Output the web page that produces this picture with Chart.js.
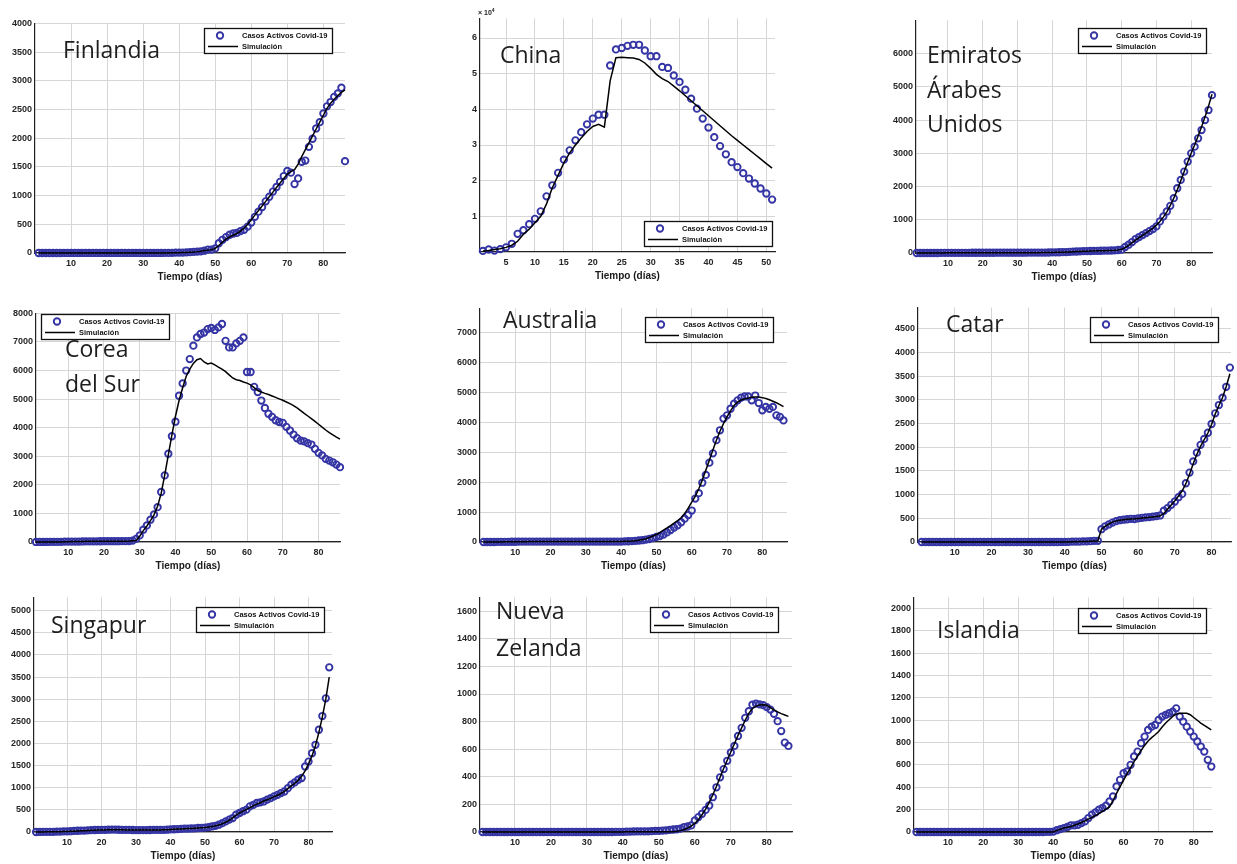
<!DOCTYPE html>
<html>
<head>
<meta charset="utf-8">
<script src="https://cdn.jsdelivr.net/npm/chart.js@4.4.1/dist/chart.umd.min.js"></script>
<style>
  html, body { margin: 0; padding: 0; background: #fff; }
  body { width: 1237px; height: 864px; position: relative; overflow: hidden; font-family: "Liberation Sans", Arial, sans-serif; }
  .panel { position: absolute; }
  .name { position: absolute; font-family: "Open Sans", sans-serif; font-size: 23px; color: #1e1e1e; white-space: pre; line-height: 34.5px; }
  .exp { position: absolute; font: bold 7px "Liberation Sans", Arial, sans-serif; color: #222; white-space: nowrap; }
  .exp sup { font-size: 5px; }
</style>
</head>
<body>
<script>
// Active COVID-19 cases per day (day 1 = first element) and model output.
const finlandiaObs = [0,0,0,0,0,0,0,1,1,1, 1,1,1,1,1,1,1,1,1,1, 1,1,1,1,1,1,1,1,1,1, 1,1,1,1,1,2,2,3,6,6,
  7,12,15,19,23,30,40,59,60,80, 170,230,277,318,340,350,380,405,460,530, 630,720,800,900,980,1070,1150,1240,1340,1430,
  1400,1200,1300,1590,1610,1850,1990,2170,2280,2430, 2555,2630,2720,2780,2880,1600];
const finlandiaSim = [0,0,0,0,0,0,0,1,1,1, 1,1,1,1,1,1,1,1,1,1, 1,1,1,1,1,1,1,1,1,1, 1,1,1,1,1,2,2,3,4,6,
  8,10,14,18,24,32,42,50,58,80, 130,190,240,280,310,340,380,430,500,580, 660,740,820,900,980,1060,1140,1220,1300,1370,
  1420,1450,1550,1680,1800,1920,2040,2160,2280,2400, 2520,2610,2680,2740,2800,2840];

const chinaObs = [300,700,400,800,1300,2300,5100,6100,7800,9300, 11400,15600,18700,22200,25900,28500,31300,33600,35800,37400,
  38500,38500,52300,56800,57200,57800,58100,58100,56500,54900, 54900,51900,51600,49500,47700,45500,43000,40200,37400,34900,
  32200,29700,27400,25200,23800,22100,20600,19200,17800,16400, 14700];
const chinaSim = [300,400,700,900,1300,1900,3000,5000,6400,8200, 10000,13500,18000,21500,25000,27800,30000,32000,33800,35200,
  35800,35000,48000,54500,54600,54500,54400,54000,53000,51500, 49800,48600,47800,46500,45200,43800,42400,41000,39600,38200,
  36800,35400,34000,32600,31300,30000,28700,27400,26100,24800, 23500];

const emiratosObs = [0,0,0,0,0,0,0,4,4,4, 5,5,5,5,5,5,7,7,8,8, 8,8,8,9,9,9,9,9,9,9, 9,9,10,11,11,12,12,14,15,20,
  20,22,25,27,35,40,45,50,55,58, 60,62,65,68,70,72,75,80,90,100, 180,250,330,420,480,540,600,660,720,800,
  950,1100,1250,1420,1650,1950,2200,2450,2750,3000, 3200,3450,3700,4000,4300,4750];
const emiratosSim = [0,0,0,0,0,0,0,3,3,4, 4,4,5,5,5,5,6,6,7,7, 7,8,8,8,8,8,9,9,9,9, 9,9,10,10,11,11,12,13,15,17,
  19,21,24,27,32,37,42,47,52,56, 59,62,65,68,70,73,76,80,88,110, 160,230,310,390,460,530,600,670,750,840,
  950,1080,1240,1430,1650,1900,2170,2450,2730,3000, 3250,3520,3800,4100,4420,4780];

const coreaObs = [1,1,2,2,3,4,4,4,11,11, 15,15,16,19,23,24,24,25,27,28, 28,28,28,28,29,30,31,51,110,230,
  430,580,780,965,1220,1750,2330,3090,3700,4210, 5120,5550,6000,6400,6870,7160,7280,7330,7450,7490,
  7420,7510,7630,7040,6810,6810,6950,7040,7160,5950, 5950,5430,5250,4950,4690,4490,4380,4260,4200,4170,
  4030,3900,3760,3630,3550,3520,3460,3410,3260,3120, 3030,2910,2850,2790,2710,2620];
const coreaSim = [1,1,2,2,3,4,4,4,10,11, 14,15,16,18,22,23,24,25,26,27, 28,28,28,28,29,30,31,40,50,200,
  400,560,750,950,1250,1700,2350,3050,3750,4400, 4950,5400,5800,6050,6250,6380,6420,6300,6230,6260,
  6200,6120,6050,5960,5850,5740,5680,5650,5600,5560, 5500,5400,5300,5250,5200,5160,5110,5060,5010,4960,
  4900,4840,4770,4690,4600,4500,4410,4320,4220,4120, 4020,3920,3830,3750,3670,3600];

const australiaObs = [0,0,0,0,4,5,5,6,9,9, 12,12,12,13,13,14,15,15,15,15, 15,15,15,15,15,15,15,15,15,15, 15,15,15,15,15,15,15,12,13,15,
  20,25,30,40,50,60,80,100,130,170, 200,250,320,400,480,560,660,780,900,1050, 1450,1630,1980,2240,2650,2960,3400,3730,4120,4230,
  4450,4620,4730,4820,4860,4860,4730,4890,4640,4400, 4510,4450,4510,4230,4180,4060];
const australiaSim = [0,0,0,0,3,4,5,6,8,9, 11,12,12,13,13,14,14,15,15,15, 15,15,15,15,15,15,15,15,15,15, 15,15,15,15,15,15,15,15,16,18,
  22,28,35,45,60,80,110,150,200,250, 310,400,470,550,630,710,810,950,1130,1330, 1520,1780,2070,2400,2730,3070,3400,3700,3950,4180,
  4380,4560,4670,4740,4780,4810,4830,4840,4840,4820, 4790,4750,4700,4650,4590,4520];

const catarObs = [0,0,0,0,0,0,0,0,0,0, 0,0,0,0,0,0,0,0,0,0, 0,0,0,0,0,0,0,0,0,0, 0,0,0,0,0,0,0,0,1,1,
  3,7,8,8,12,15,18,24,24,270, 330,370,410,440,460,470,480,490,485,500, 510,520,525,535,545,560,660,715,785,855,
  945,1015,1240,1465,1700,1885,2050,2175,2305,2490, 2715,2890,3045,3275,3680];
const catarSim = [0,0,0,0,0,0,0,0,0,0, 0,0,0,0,0,0,0,0,0,0, 0,0,0,0,0,0,0,0,0,0, 0,0,0,0,0,0,0,0,1,1,
  2,4,6,8,10,13,16,20,25,270, 330,380,420,445,460,470,478,485,490,497, 505,512,520,530,540,555,600,690,780,870,
  970,1080,1230,1430,1650,1850,2020,2160,2300,2480, 2700,2880,3050,3280,3550];

const singapurObs = [0,1,3,3,4,5,7,10,13,16, 18,24,28,30,33,38,42,45,46,50, 50,52,53,53,51,50,50,47,45,44,
  43,42,44,45,47,47,48,50,52,58, 62,65,70,75,78,80,82,90,95,100, 110,125,140,165,200,240,280,315,390,430,
  470,505,580,615,655,670,690,730,765,805, 840,880,915,990,1070,1120,1180,1220,1480,1590, 1780,1970,2310,2620,3020,3720];
const singapurSim = [0,1,2,3,4,5,6,8,10,12, 15,18,22,26,30,34,38,41,44,46, 48,49,50,50,50,49,48,47,46,45,
  44,44,44,45,46,47,48,50,53,57, 61,65,69,73,77,81,85,90,96,103, 112,124,140,160,185,220,265,320,380,430,
  470,510,550,590,630,660,700,730,760,800, 830,870,920,980,1040,1100,1170,1260,1380,1540, 1720,1950,2250,2600,3000,3500];

const zelandaObs = [0,0,0,0,0,0,0,0,0,0, 0,0,0,0,0,0,0,0,0,0, 0,0,0,0,0,0,0,0,0,0, 0,0,0,0,0,0,0,1,1,1,
  2,3,4,5,5,5,5,6,8,8, 10,12,15,18,20,25,36,40,48,84, 108,132,160,192,252,324,396,456,516,576,
  624,696,755,827,875,923,930,925,919,905, 887,856,803,731,648,624];
const zelandaSim = [0,0,0,0,0,0,0,0,0,0, 0,0,0,0,0,0,0,0,0,0, 0,0,0,0,0,0,0,0,0,0, 0,0,0,0,0,0,0,0,0,0,
  1,1,1,1,1,1,1,1,1,1, 1,1,1,2,5,10,18,28,42,62, 90,125,165,215,270,330,395,460,520,580,
  640,700,755,810,860,895,912,920,922,918, 902,885,870,858,848,838];

const islandiaObs = [0,0,0,0,0,0,0,0,0,0, 0,0,0,0,0,0,0,0,0,0, 0,0,0,0,0,0,0,0,0,0, 0,0,0,0,0,0,0,1,1,3,
  16,26,35,45,60,60,65,80,95,125, 155,175,200,215,235,274,318,408,467,527, 542,601,676,720,795,854,914,943,958,1003,
  1033,1048,1063,1077,1107,1033,988,943,899,854, 810,765,720,646,586];
const islandiaSim = [0,0,0,0,0,0,0,0,0,0, 0,0,0,0,0,0,0,0,0,0, 0,0,0,0,0,0,0,0,0,0, 0,0,0,0,0,0,0,0,0,0,
  15,25,35,42,50,60,72,85,100,115, 130,148,165,185,205,225,280,345,405,465, 520,575,630,680,730,775,815,845,870,900,
  940,975,1005,1035,1055,1062,1063,1062,1050,1025, 1000,975,955,935,914];

// Axis ticks
const xTicksDias = [10, 20, 30, 40, 50, 60, 70, 80];
const xTicksChina = [5, 10, 15, 20, 25, 30, 35, 40, 45, 50];
const yTicksFinlandia = [0, 500, 1000, 1500, 2000, 2500, 3000, 3500, 4000];
const yTicksChina = [10000, 20000, 30000, 40000, 50000, 60000];
const yLabelsChina = ['1', '2', '3', '4', '5', '6'];
const yTicksEmiratos = [0, 1000, 2000, 3000, 4000, 5000, 6000];
const yTicksCorea = [0, 1000, 2000, 3000, 4000, 5000, 6000, 7000, 8000];
const yTicksAustralia = [0, 1000, 2000, 3000, 4000, 5000, 6000, 7000];
const yTicksCatar = [0, 500, 1000, 1500, 2000, 2500, 3000, 3500, 4000, 4500];
const yTicksSingapur = [0, 500, 1000, 1500, 2000, 2500, 3000, 3500, 4000, 4500, 5000];
const yTicksZelanda = [0, 200, 400, 600, 800, 1000, 1200, 1400, 1600];
const yTicksIslandia = [0, 200, 400, 600, 800, 1000, 1200, 1400, 1600, 1800, 2000];

const xTitle = 'Tiempo (días)';
const obsLabel = 'Casos Activos Covid-19';
const simLabel = 'Simulación';

// Panel geometry: plot rectangle [left, top, right, bottom] in page pixels,
// axis ranges, legend box position and the country caption.
const panels = [
  { name: 'Finlandia', obs: finlandiaObs, sim: finlandiaSim, plot: [35, 23, 345, 253], x: [0, 86], y: [0, 4000],
    xt: xTicksDias, yt: yTicksFinlandia, legend: [204, 28], caption: [63, 32] },
  { name: 'China', obs: chinaObs, sim: chinaSim, plot: [480, 18, 775, 252], x: [0.5, 51.5], y: [0, 65500],
    xt: xTicksChina, yt: yTicksChina, yl: yLabelsChina, legend: [644, 221], caption: [500, 37], exp: true },
  { name: 'Emiratos\nÁrabes\nUnidos', obs: emiratosObs, sim: emiratosSim, plot: [916, 20, 1212, 253], x: [0.8, 86], y: [0, 7000],
    xt: xTicksDias, yt: yTicksEmiratos, legend: [1078, 28], caption: [927, 37] },
  { name: 'Corea\ndel Sur', obs: coreaObs, sim: coreaSim, plot: [36, 313, 340, 542], x: [1, 86], y: [0, 8000],
    xt: xTicksDias, yt: yTicksCorea, legend: [41, 314], caption: [65, 331] },
  { name: 'Australia', obs: australiaObs, sim: australiaSim, plot: [480, 308, 787, 542], x: [0, 87], y: [0, 7800],
    xt: xTicksDias, yt: yTicksAustralia, legend: [645, 317], caption: [503, 302] },
  { name: 'Catar', obs: catarObs, sim: catarSim, plot: [918, 307, 1231, 542], x: [0, 85.3], y: [0, 4950],
    xt: xTicksDias, yt: yTicksCatar, legend: [1090, 317], caption: [946, 306] },
  { name: 'Singapur', obs: singapurObs, sim: singapurSim, plot: [34, 597, 332, 832], x: [0.4, 86.8], y: [0, 5300],
    xt: xTicksDias, yt: yTicksSingapur, legend: [196, 607], caption: [51, 607] },
  { name: 'Nueva\nZelanda', obs: zelandaObs, sim: zelandaSim, plot: [480, 597, 792, 832], x: [0.3, 87], y: [0, 1700],
    xt: xTicksDias, yt: yTicksZelanda, legend: [650, 607], caption: [496, 592], lh: 37 },
  { name: 'Islandia', obs: islandiaObs, sim: islandiaSim, plot: [914, 597, 1212, 832], x: [0.3, 85.2], y: [0, 2100],
    xt: xTicksDias, yt: yTicksIslandia, legend: [1078, 608], caption: [937, 612] }
];

// Boxed legend drawn inside the plot area, Matlab style.
const boxLegend = {
  id: 'boxLegend',
  afterDraw(chart, args, opts) {
    const ctx = chart.ctx;
    const x = opts.x, y = opts.y, w = 128, h = 25;
    const obs = chart.data.datasets[0], sim = chart.data.datasets[1];
    ctx.save();
    ctx.fillStyle = '#fff';
    ctx.fillRect(x, y, w, h);
    ctx.strokeStyle = '#111';
    ctx.lineWidth = 1.3;
    ctx.strokeRect(x + 0.5, y + 0.5, w, h);
    ctx.beginPath();
    ctx.arc(x + 16, y + 7.5, obs.pointRadius, 0, Math.PI * 2);
    ctx.strokeStyle = obs.pointBorderColor;
    ctx.lineWidth = obs.pointBorderWidth;
    ctx.stroke();
    ctx.beginPath();
    ctx.moveTo(x + 4, y + 18.5);
    ctx.lineTo(x + 34, y + 18.5);
    ctx.strokeStyle = sim.borderColor;
    ctx.lineWidth = sim.borderWidth;
    ctx.stroke();
    ctx.fillStyle = '#111';
    ctx.font = 'bold 7.5px "Liberation Sans", Arial, sans-serif';
    ctx.textBaseline = 'middle';
    ctx.fillText(obs.label, x + 38, y + 7.5);
    ctx.fillText(sim.label, x + 38, y + 18.5);
    ctx.restore();
  }
};

const PAD_L = 46, PAD_T = 8, PAD_R = 10, PAD_B = 32;
const tickFont = { family: '"Liberation Sans", Arial, sans-serif', size: 9, weight: 'bold' };
const gridColor = '#d6d6d6';

panels.forEach(p => {
  const [L, T, R, B] = p.plot;
  const left = L - PAD_L, top = T - PAD_T;
  const w = (R - L) + PAD_L + PAD_R, h = (B - T) + PAD_T + PAD_B;

  const box = document.createElement('div');
  box.className = 'panel';
  box.style.left = left + 'px';
  box.style.top = top + 'px';
  box.style.width = w + 'px';
  box.style.height = h + 'px';
  const canvas = document.createElement('canvas');
  canvas.width = w;
  canvas.height = h;
  canvas.style.width = w + 'px';
  canvas.style.height = h + 'px';
  box.appendChild(canvas);
  document.body.appendChild(box);

  new Chart(canvas, {
    type: 'line',
    data: {
      datasets: [
        {
          label: obsLabel,
          data: p.obs.map((v, i) => ({ x: i + 1, y: v })),
          showLine: false,
          pointStyle: 'circle',
          pointRadius: 3.2,
          pointBorderWidth: 1.9,
          pointBorderColor: '#3434a4',
          pointBackgroundColor: 'rgba(255,255,255,0)',
          borderColor: '#3434a4',
          clip: false,
          order: 1
        },
        {
          label: simLabel,
          data: p.sim.map((v, i) => ({ x: i + 1, y: v })),
          borderColor: '#000',
          borderWidth: 1.5,
          pointRadius: 0,
          tension: 0,
          fill: false,
          clip: false,
          order: 0
        }
      ]
    },
    options: {
      responsive: false,
      animation: false,
      devicePixelRatio: 1,
      layout: { padding: { left: 0, top: PAD_T, right: PAD_R, bottom: 0 } },
      plugins: {
        legend: { display: false },
        tooltip: { enabled: false },
        boxLegend: { x: p.legend[0] - left, y: p.legend[1] - top }
      },
      scales: {
        x: {
          type: 'linear',
          min: p.x[0],
          max: p.x[1],
          afterBuildTicks: s => { s.ticks = p.xt.map(v => ({ value: v })); },
          afterFit: s => { s.height = PAD_B; },
          grid: { color: gridColor, lineWidth: 1, drawTicks: false },
          border: { display: true, color: '#222', width: 1.2 },
          ticks: { padding: 5, color: '#262626', font: tickFont, autoSkip: false, maxRotation: 0,
                   callback: v => String(v) },
          title: { display: true, text: xTitle, color: '#1a1a1a', padding: { top: 0, bottom: 2 },
                   font: { family: '"Liberation Sans", Arial, sans-serif', size: 10, weight: 'bold' } }
        },
        y: {
          type: 'linear',
          min: p.y[0],
          max: p.y[1],
          afterBuildTicks: s => { s.ticks = p.yt.map(v => ({ value: v })); },
          afterFit: s => { s.width = PAD_L; },
          grid: { color: gridColor, lineWidth: 1, drawTicks: false },
          border: { display: true, color: '#222', width: 1.2 },
          ticks: { padding: 3, color: '#262626', font: tickFont, autoSkip: false,
                   callback: v => p.yl ? p.yl[p.yt.indexOf(v)] : String(v) }
        }
      }
    },
    plugins: [boxLegend]
  });

  const cap = document.createElement('div');
  cap.className = 'name';
  cap.textContent = p.name;
  cap.style.left = p.caption[0] + 'px';
  cap.style.top = p.caption[1] + 'px';
  if (p.lh) cap.style.lineHeight = p.lh + 'px';
  document.body.appendChild(cap);

  if (p.exp) {
    const e = document.createElement('div');
    e.className = 'exp';
    e.innerHTML = '× 10<sup>4</sup>';
    e.style.left = (L - 2) + 'px';
    e.style.top = (T - 11) + 'px';
    document.body.appendChild(e);
  }
});
</script>
</body>
</html>
